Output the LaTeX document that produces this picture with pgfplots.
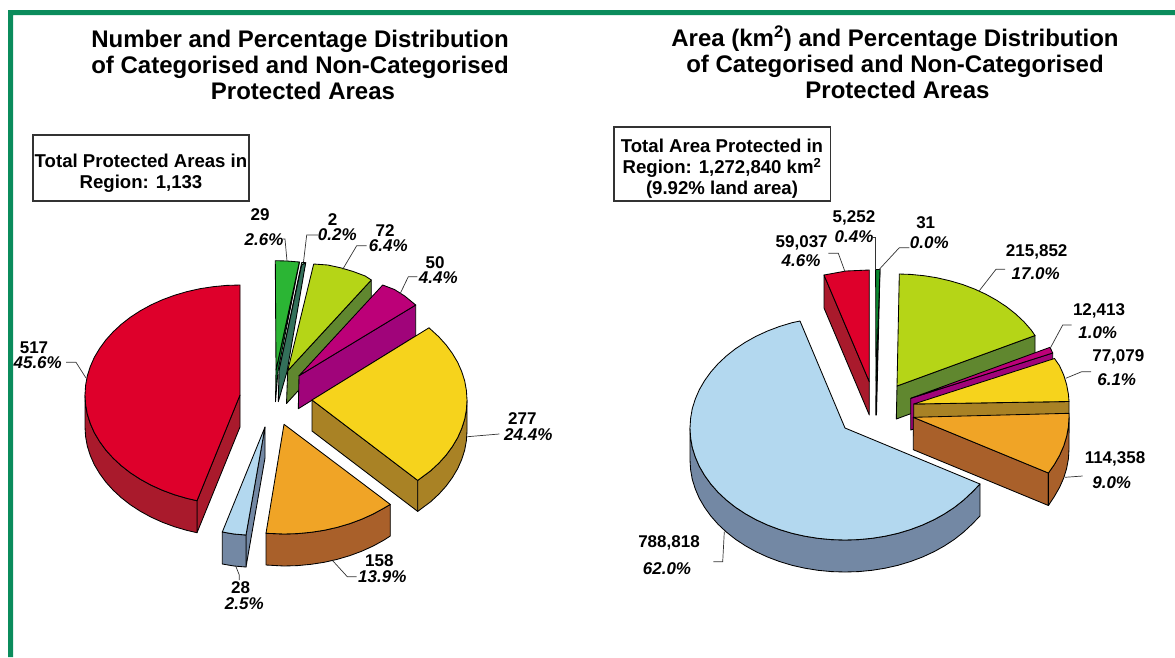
\documentclass[border=0pt]{standalone}
\usepackage{fontspec}
\setmainfont{Liberation Sans}
\usepackage{pgfplots}
\pgfplotsset{compat=1.18}

\definecolor{frameG}{HTML}{0B8C5C}
\definecolor{redT}{HTML}{DE002B}   \definecolor{redS}{HTML}{A91A2C}
\definecolor{yelT}{HTML}{F6D31C}   \definecolor{yelS}{HTML}{A98225}
\definecolor{oraT}{HTML}{F0A426}   \definecolor{oraS}{HTML}{A9602A}
\definecolor{bluT}{HTML}{B3D8EF}   \definecolor{bluS}{HTML}{7388A4}
\definecolor{limT}{HTML}{B5D517}   \definecolor{limS}{HTML}{60872F}
\definecolor{magT}{HTML}{BC0078}   \definecolor{magS}{HTML}{A0047A}
\definecolor{grnT}{HTML}{2BB534}   \definecolor{grnS}{HTML}{0A8A30}
\definecolor{tealT}{HTML}{7DC08C}  \definecolor{tealS}{HTML}{33705A}

\pgfplotsset{
  slice/.style={fill=#1, draw=black, line width=0.85pt, line join=round, mark=none},
  lead/.style={draw=black!80, line width=0.7pt, mark=none},
}
% value and percentage labels
\newcommand{\val}[3]{\node[font=\fontsize{17}{20}\selectfont\bfseries, inner sep=0pt] at (axis cs:#1,#2) {#3};}
\newcommand{\pct}[3]{\node[font=\fontsize{17}{20}\selectfont\bfseries\itshape, inner sep=0pt] at (axis cs:#1,#2) {#3};}

\begin{document}
\begin{tikzpicture}
\begin{axis}[
    scale only axis, width=1175pt, height=657pt,
    xmin=0, xmax=1175, ymin=0, ymax=657, y dir=reverse,
    hide axis, clip=true,
]
% keeps the page at the full axis size
\addplot[draw=none, mark=none] coordinates {(0,0) (1175,0) (1175,657) (0,657)} -- cycle;
% frame
\addplot[fill=frameG, draw=none, mark=none] coordinates {
    (1175,10) (8,10) (8,657) (13,657) (13,15) (1175,15)} -- cycle;

% boxes
\addplot[fill=white, draw=black!80, line width=1.2pt, mark=none] coordinates {
    (33,135) (249,135) (249,201) (33,201)} -- cycle;
\addplot[fill=white, draw=black!80, line width=1.2pt, mark=none] coordinates {
    (614,127) (830.5,127) (830.5,201) (614,201)} -- cycle;

%%% left pie
% 29
\addplot[slice=grnS] coordinates {(299.5,262) (276,370) (275.5,401.7) (278,371)} -- cycle;
\addplot[slice=grnT] coordinates {(275.3,260.7) (287,261) (299.3,262) (276,370)} -- cycle;
% 2
\addplot[slice=tealT] coordinates {(301.7,262.5) (305.7,262.7) (279,370.7)} -- cycle;
\addplot[slice=tealS] coordinates {(305.7,262.7) (301.7,265) (279,370.7) (278.3,401.7) (287,371.7)} -- cycle;
% 72
\addplot[slice=limS] coordinates {(371.3,280) (287.7,370.7) (286.5,403.5) (371.3,311)} -- cycle;
\addplot[slice=limT] coordinates {(313.7,264) (327.8,265) (340.7,267.8) (353.2,271.5) (365.2,276) (371.3,280) (287.7,370.7)} -- cycle;
% 50
\addplot[slice=magS] coordinates {(415.7,305) (299,375.7) (298.3,408.7) (415.7,336)} -- cycle;
\addplot[slice=magT] coordinates {(382.7,285) (394.5,289.5) (404.7,296) (415.7,305) (299,375.7)} -- cycle;
% 277
\addplot[slice=yelS] coordinates {(312,400) (417.7,480.4) (417.7,511.4) (312,431)} -- cycle;
\addplot[slice=yelS] coordinates {(467,400) (466.4,409.6) (464.7,419.1) (461.7,428.5) (457.7,437.6) (452.4,446.5) (446.2,455) (438.9,463.1) (430.7,470.7) (417.7,480.4)
    (417.7,511.4) (430.7,501.7) (438.9,494.1) (446.2,486) (452.4,477.5) (457.7,468.6) (461.7,459.5) (464.7,450.1) (466.4,440.6) (467,431)} -- cycle;
\addplot[slice=yelT] coordinates {(312,400) (429,327.8) (438.9,336.9) (446.2,345) (452.4,353.5) (457.7,362.4) (461.7,371.5) (464.7,380.9) (466.4,390.4) (467,400)
    (466.4,409.6) (464.7,419.1) (461.7,428.5) (457.7,437.6) (452.4,446.5) (446.2,455) (438.9,463.1) (430.7,470.7) (417.7,480.4)} -- cycle;
% 158
\addplot[slice=oraS] coordinates {(390.3,504.4) (383.6,508.3) (373,514.1) (361.5,519.3) (349.6,523.7) (337,527.4) (324.1,530.3) (311,532.3) (297.5,533.6) (284,534) (266,533.3)
    (266,565) (284,566) (297.5,565.6) (311,564.3) (324.1,562.3) (337,559.4) (349.6,555.7) (361.5,551.3) (373,546.1) (383.6,540.3) (390.3,536)} -- cycle;
\addplot[slice=oraT] coordinates {(284,424.3) (390.3,504.4) (383.6,508.3) (373,514.1) (361.5,519.3) (349.6,523.7) (337,527.4) (324.1,530.3) (311,532.3) (297.5,533.6) (284,534) (266,533.3)} -- cycle;
% 28
\addplot[slice=bluS] coordinates {(265,427) (246,535) (246,567) (265,458)} -- cycle;
\addplot[slice=bluS] coordinates {(222.3,532) (234,534) (246,535) (246,567) (234,566) (222.3,564)} -- cycle;
\addplot[slice=bluT] coordinates {(265,427) (222.3,532) (234,534) (246,535)} -- cycle;
% 517
\addplot[slice=redS] coordinates {(240,395) (197,500.7) (197,532.7) (240,427)} -- cycle;
\addplot[slice=redS] coordinates {(85,395) (85.6,404.6) (87.3,414.1) (90.3,423.5) (94.3,432.6) (99.6,441.5) (105.8,450) (113.1,458.1) (121.3,465.7) (130.4,472.8) (140.4,479.3)
    (151,485.1) (162.5,490.3) (174.4,494.7) (187,498.4) (197,500.7)
    (197,532.7) (187,530.4) (174.4,526.7) (162.5,522.3) (151,517.1) (140.4,511.3) (130.4,504.8) (121.3,497.7) (113.1,490.1) (105.8,482)
    (99.6,473.5) (94.3,464.6) (90.3,455.5) (87.3,446.1) (85.6,436.6) (85,427)} -- cycle;
\addplot[slice=redT] coordinates {(240,285) (226.5,285.4) (213,286.7) (199.9,288.7) (187,291.6) (174.4,295.3) (162.5,299.7) (151,304.9) (140.4,310.7) (130.4,317.2) (121.3,324.3)
    (113.1,331.9) (105.8,340) (99.6,348.5) (94.3,357.4) (90.3,366.5) (87.3,375.9) (85.6,385.4)
    (85,395) (85.6,404.6) (87.3,414.1) (90.3,423.5) (94.3,432.6) (99.6,441.5) (105.8,450) (113.1,458.1) (121.3,465.7) (130.4,472.8) (140.4,479.3)
    (151,485.1) (162.5,490.3) (174.4,494.7) (187,498.4) (197,500.7) (240,395)} -- cycle;

%%% right pie
% 31
\addplot[slice=black] coordinates {(880,269.5) (876,381) (875.8,415) (876.5,415)} -- cycle;
% 5,252
\addplot[slice=grnS] coordinates {(875.6,269.5) (880,269.5) (876,381)} -- cycle;
% 59,037
\addplot[slice=redS] coordinates {(824,275) (869.3,381.7) (869.3,415) (824,308)} -- cycle;
\addplot[slice=redT] coordinates {(869.3,381.7) (824,275) (846,271) (869.3,270)} -- cycle;
% 215,852
\addplot[slice=limS] coordinates {(1035,335.5) (897,386) (896.3,419) (1035,368)} -- cycle;
\addplot[slice=limT] coordinates {(899.3,274) (910.5,274.4) (924,275.7) (937.1,277.8) (950,280.8) (962.6,284.5) (974.5,289) (986,294.3) (996.6,300.2) (1006.6,306.8) (1015.7,314) (1023.9,321.7) (1031.2,330) (1035,335.5) (897,386)} -- cycle;
% 12,413
\addplot[slice=magS] coordinates {(1052.7,353) (910.7,398.3) (910.7,430) (1052.7,385)} -- cycle;
\addplot[slice=magT] coordinates {(910.7,398.3) (1050,347.3) (1052.7,353)} -- cycle;
% 77,079
\addplot[slice=yelS] coordinates {(913.7,404) (1069,401.5) (1069,433) (913.7,436)} -- cycle;
\addplot[slice=yelT] coordinates {(913.7,404) (1054.5,358.5) (1059.5,365.7) (1063.7,375) (1066.6,384.5) (1068.4,394.2) (1069,401.5)} -- cycle;
% 114,358
\addplot[slice=oraS] coordinates {(913.3,417.3) (1048.4,473) (1048.4,505.5) (913.3,449.7)} -- cycle;
\addplot[slice=oraS] coordinates {(1069,417) (1068.4,426.8) (1066.6,436.5) (1063.7,446) (1059.6,455.3) (1054.4,464.4) (1048.4,473)
    (1048.4,505.5) (1054.4,496.4) (1059.6,487.3) (1063.7,478) (1066.6,468.5) (1068.4,458.8) (1069,449)} -- cycle;
\addplot[slice=oraT] coordinates {(913.3,417.3) (1069,413.3) (1069,417) (1068.4,426.8) (1066.6,436.5) (1063.7,446) (1059.6,455.3) (1054.4,464.4) (1048.4,473)} -- cycle;
% 788,818
\addplot[slice=bluS] coordinates {(690,428) (690.6,437.7) (692.3,447.5) (695.3,457) (699.3,466.3) (704.6,475.4) (710.8,484) (718.1,492.3) (726.3,500) (735.4,507.2) (745.4,513.8)
    (756,519.7) (767.5,525) (779.4,529.5) (792,533.3) (804.9,536.2) (818,538.3) (831.5,539.6)
    (845,540) (858.5,539.6) (872,538.3) (885.1,536.2) (898,533.3) (910.6,529.5) (922.5,525) (934,519.7) (944.6,513.8) (954.6,507.2) (963.7,500) (971.9,492.3) (980,484)
    (980,516) (971.9,524.3) (963.7,532) (954.6,539.2) (944.6,545.8) (934,551.7) (922.5,557) (910.6,561.5) (898,565.3) (885.1,568.2) (872,570.3) (858.5,571.6)
    (845,572) (831.5,571.6) (818,570.3) (804.9,568.2) (792,565.3) (779.4,561.5) (767.5,557) (756,551.7) (745.4,545.8)
    (735.4,539.2) (726.3,532) (718.1,524.3) (710.8,516) (704.6,507.4) (699.3,498.3) (695.3,489) (692.3,479.5) (690.6,469.7) (690,460)} -- cycle;
\addplot[slice=bluT] coordinates {(845,428) (800,321) (792,322.7) (779.4,326.5) (767.5,331) (756,336.3) (745.4,342.2) (735.4,348.8) (726.3,356) (718.1,363.7) (710.8,372) (704.6,380.6)
    (699.3,389.7) (695.3,399) (692.3,408.5) (690.6,418.3)
    (690,428) (690.6,437.7) (692.3,447.5) (695.3,457) (699.3,466.3) (704.6,475.4) (710.8,484) (718.1,492.3) (726.3,500) (735.4,507.2) (745.4,513.8)
    (756,519.7) (767.5,525) (779.4,529.5) (792,533.3) (804.9,536.2) (818,538.3) (831.5,539.6)
    (845,540) (858.5,539.6) (872,538.3) (885.1,536.2) (898,533.3) (910.6,529.5) (922.5,525) (934,519.7) (944.6,513.8) (954.6,507.2) (963.7,500) (971.9,492.3) (980,484)} -- cycle;

%%% leader lines
\addplot[lead] coordinates {(66,362.3) (76,362.3) (86,378)};
\addplot[lead] coordinates {(283,239) (285,239) (287,261)};
\addplot[lead] coordinates {(318,235) (306.7,235) (303.5,262)};
\addplot[lead] coordinates {(366.7,245.7) (356.7,245.7) (342.7,269.3)};
\addplot[lead] coordinates {(417.3,276.7) (408.3,276.7) (400,294)};
\addplot[lead] coordinates {(499.3,434) (467.3,436.7)};
\addplot[lead] coordinates {(356.7,576.7) (347.3,576.7) (332.7,560.7)};
\addplot[lead] coordinates {(239.3,580) (239.3,575) (235.7,566)};
\addplot[lead] coordinates {(828.3,253.3) (838.3,253.3) (845,271.7)};
\addplot[lead] coordinates {(873.3,237.7) (875.7,237.7) (875.7,270)};
\addplot[lead] coordinates {(909.3,247.7) (899.3,247.7) (879.3,269.3)};
\addplot[lead] coordinates {(1005,269.3) (996,269.3) (979.3,290.7)};
\addplot[lead] coordinates {(1071.7,325) (1062.7,325) (1050.7,347.3)};
\addplot[lead] coordinates {(1091,371.7) (1081.7,371.7) (1065.7,378.3)};
\addplot[lead] coordinates {(1082.7,476) (1065,477.3)};
\addplot[lead] coordinates {(713.3,561.7) (722.7,561.7) (724.3,531.7)};

%%% titles
\node[font=\fontsize{24}{26}\selectfont\bfseries, align=center, inner sep=0pt] at (axis cs:300,65)
    {Number and Percentage Distribution\\of Categorised and Non-Categorised\\\hspace{6pt}Protected Areas};
\node[font=\fontsize{24}{26}\selectfont\bfseries, align=center, inner sep=0pt] at (axis cs:895,62)
    {Area (km\textsuperscript{2}) and Percentage Distribution\\of Categorised and Non-Categorised\\\hspace{5pt}Protected Areas};
\node[font=\fontsize{18.6}{21}\selectfont\bfseries, align=center, inner sep=0pt] at (axis cs:141,173)
    {Total Protected Areas in\\Region: 1,133};
\node[font=\fontsize{18.6}{21}\selectfont\bfseries, align=center, inner sep=0pt] at (axis cs:722,169)
    {Total Area Protected in\\Region: 1,272,840 km\textsuperscript{2}\\(9.92\% land area)};

%%% left labels
\val{34}{347.3}{517}        \pct{37.7}{362.7}{45.6\%}
\val{260}{215}{29}          \pct{264}{239.5}{2.6\%}
\val{332.7}{219.7}{2}       \pct{337.3}{235}{0.2\%}
\val{385}{230.5}{72}        \pct{388.3}{245.7}{6.4\%}
\val{435}{262.3}{50}        \pct{438.3}{277.3}{4.4\%}
\val{522.3}{419}{277}       \pct{528.3}{434.3}{24.4\%}
\val{379.3}{561}{158}       \pct{382.3}{576.7}{13.9\%}
\val{240.7}{587.7}{28}      \pct{244.3}{603.3}{2.5\%}
%%% right labels
\val{801.7}{242.7}{59,037}  \pct{801}{260.7}{4.6\%}
\val{854}{218.3}{5,252}     \pct{854}{236.7}{0.4\%}
\val{925.7}{223}{31}        \pct{929.3}{242.3}{0.0\%}
\val{1036.7}{251.7}{215,852} \pct{1035.7}{273.3}{17.0\%}
\val{1099}{311}{12,413}     \pct{1097.7}{332.7}{1.0\%}
\val{1118.3}{357}{77,079}   \pct{1116.7}{379.3}{6.1\%}
\val{1115}{459}{114,358}    \pct{1111.7}{482.3}{9.0\%}
\val{669}{543.3}{788,818}   \pct{667}{569}{62.0\%}
\end{axis}
\end{tikzpicture}
\end{document}
